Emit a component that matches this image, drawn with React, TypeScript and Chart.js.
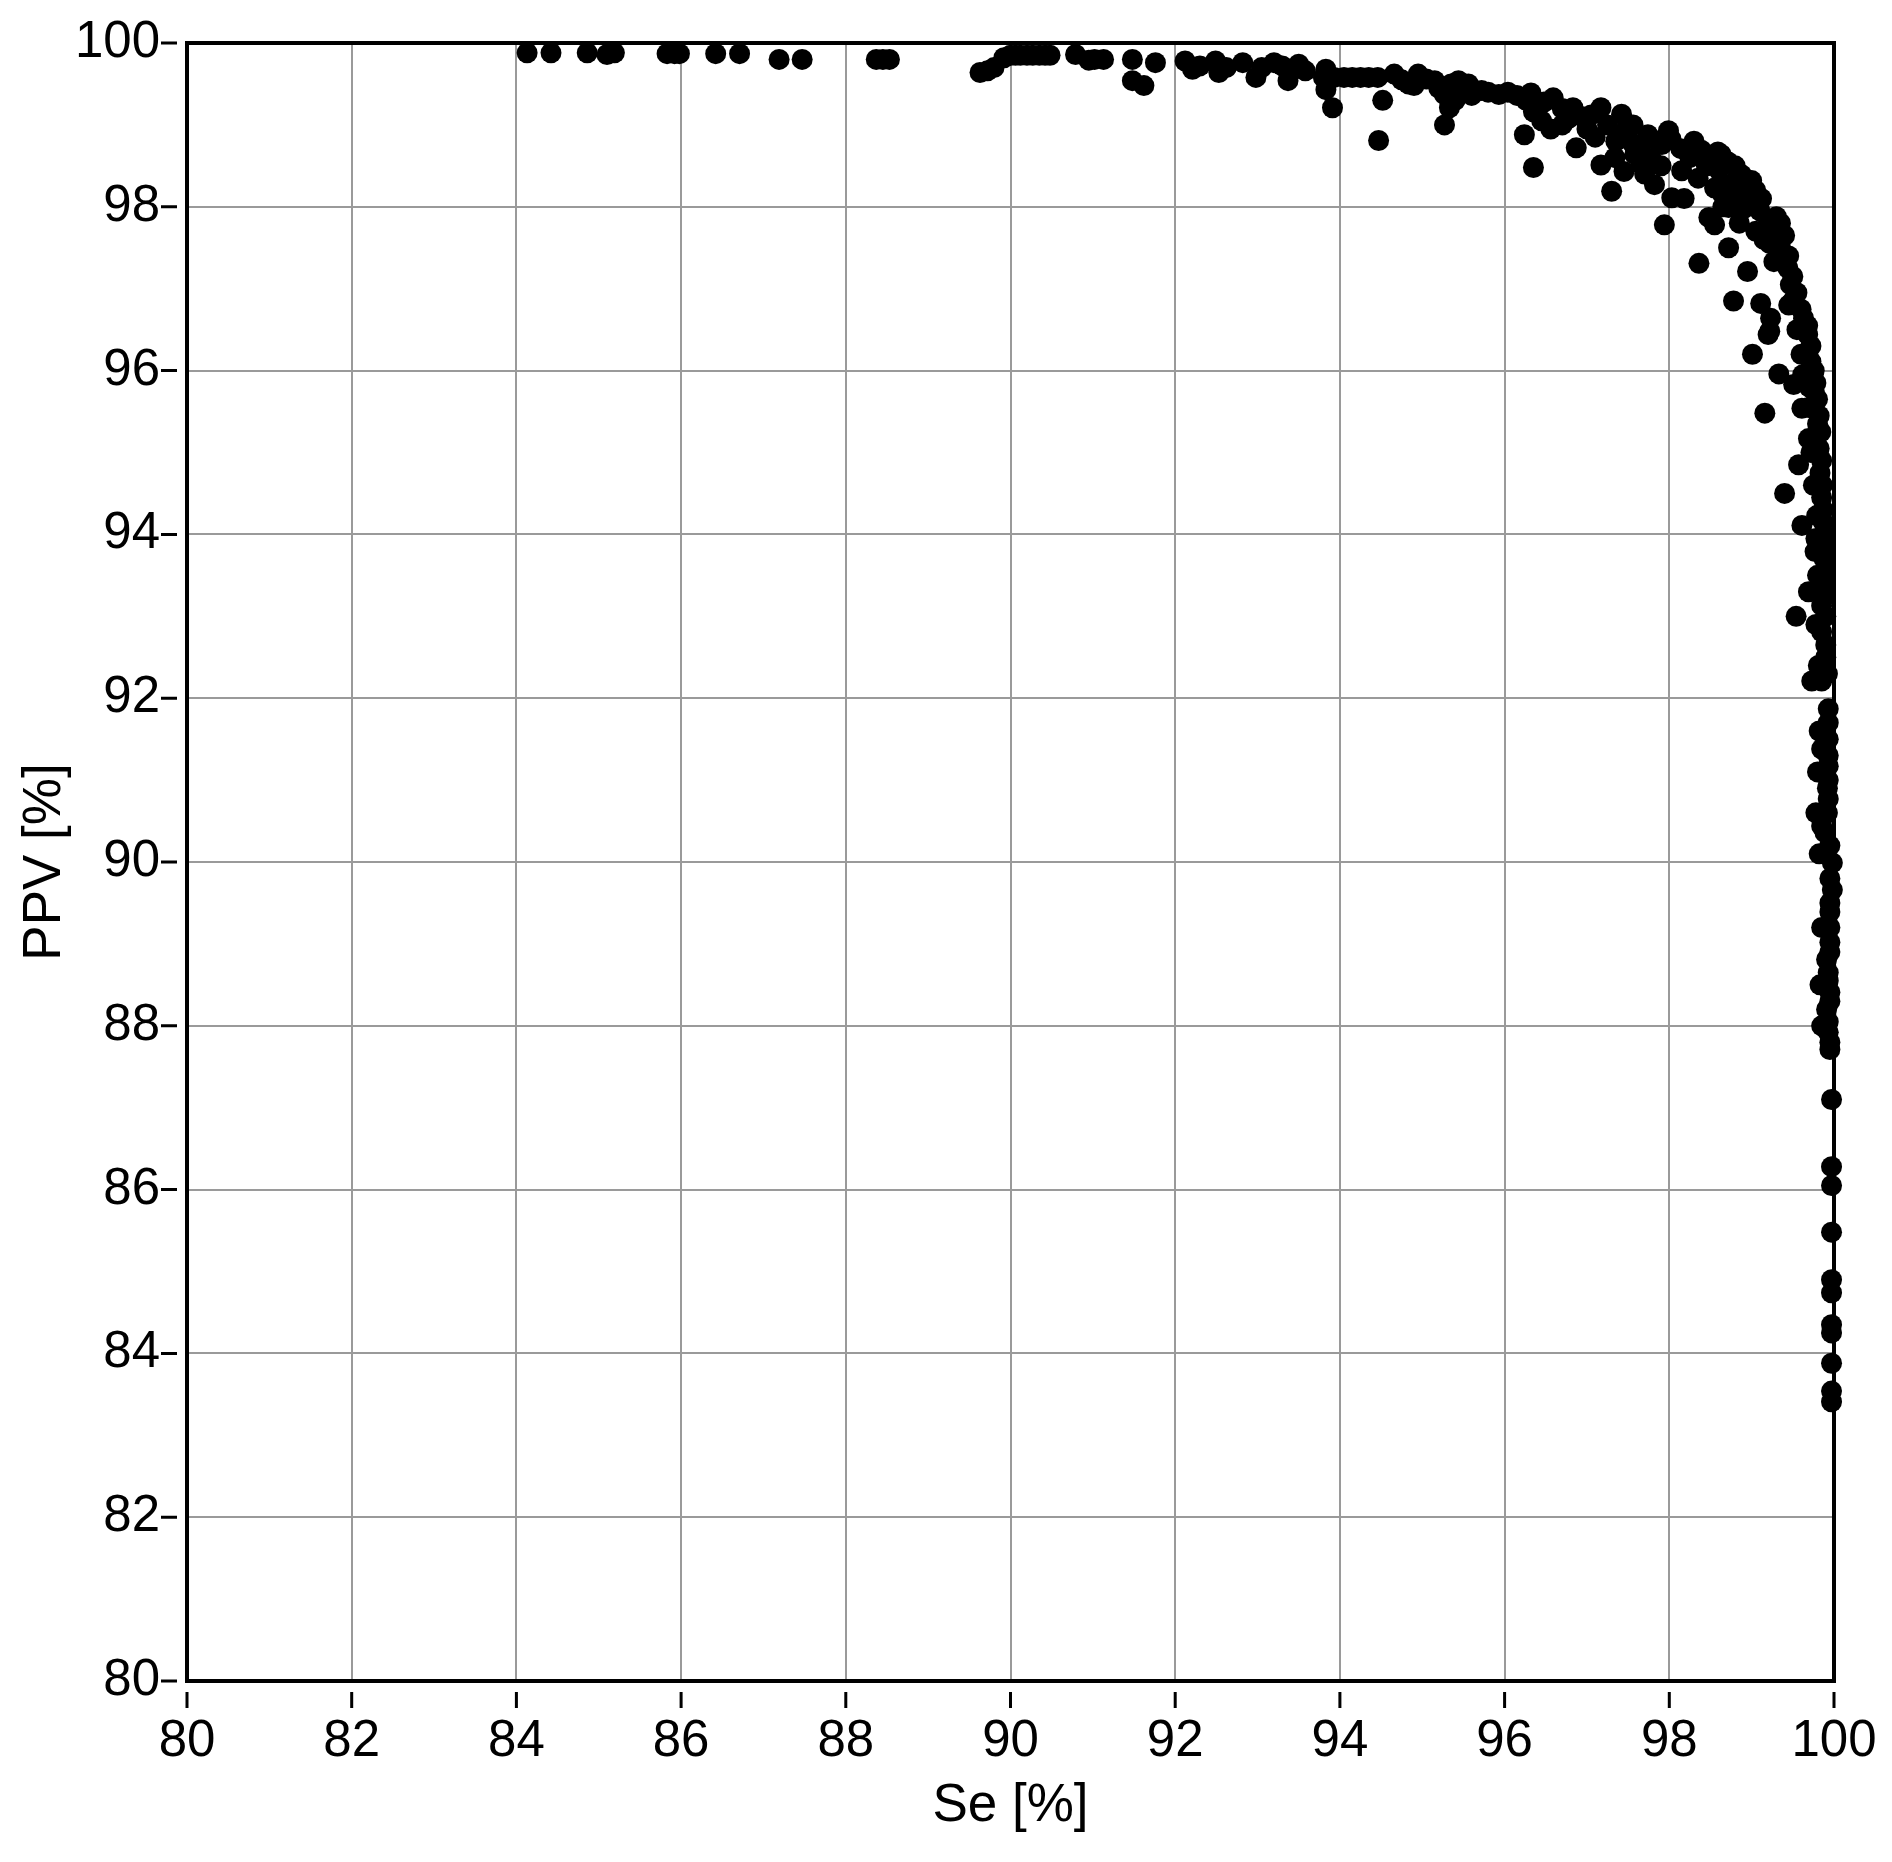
import React, { useEffect, useRef } from "react";
import { Chart, registerables } from "chart.js";

Chart.register(...registerables);

// Tick values for both axes
const axisTicks = [80, 82, 84, 86, 88, 90, 92, 94, 96, 98, 100];
const xTitle = "Se [%]";
const yTitle = "PPV [%]";

// [Se, PPV] pairs
const topRow: [number, number][] = [
  [84.13, 99.88], [84.42, 99.88], [84.86, 99.88], [85.1, 99.86], [85.19, 99.88],
  [85.83, 99.87], [85.92, 99.87], [85.98, 99.87], [86.42, 99.87], [86.71, 99.87],
  [87.19, 99.8], [87.47, 99.8], [88.37, 99.8], [88.45, 99.8], [88.53, 99.8],
];

const plateau: [number, number][] = [
  [89.63, 99.64], [89.72, 99.66], [89.8, 99.7], [89.92, 99.82], [90.0, 99.85],
  [90.06, 99.85], [90.12, 99.85], [90.2, 99.85], [90.27, 99.85], [90.35, 99.85],
  [90.42, 99.85], [90.48, 99.85], [90.79, 99.86], [90.95, 99.79], [91.02, 99.8],
  [91.13, 99.8], [91.48, 99.8], [91.48, 99.54], [91.62, 99.48], [91.76, 99.76],
  [92.12, 99.78], [92.21, 99.68], [92.3, 99.72], [92.49, 99.78], [92.53, 99.64],
  [92.62, 99.7], [92.82, 99.76], [92.98, 99.58], [93.05, 99.7], [93.2, 99.76],
  [93.3, 99.72], [93.37, 99.54], [93.5, 99.74], [93.58, 99.66], [93.8, 99.58],
  [93.83, 99.68], [93.83, 99.43], [93.91, 99.21],
];

const band: [number, number][] = [
  [93.93, 99.58], [94.05, 99.58], [94.15, 99.58], [94.25, 99.58], [94.35, 99.58],
  [94.46, 99.58], [94.52, 99.3], [94.47, 98.81], [94.66, 99.62], [94.75, 99.55],
  [94.83, 99.5], [94.95, 99.62], [95.05, 99.56], [95.15, 99.54], [95.27, 99.37],
  [95.27, 99.0], [95.33, 99.21], [95.35, 99.5], [95.44, 99.54], [95.5, 99.45],
  [95.56, 99.5], [95.63, 99.42], [95.72, 99.42], [95.8, 99.4], [95.93, 99.37],
  [96.04, 99.4], [95.4, 99.3], [95.2, 99.45], [94.9, 99.48], [95.6, 99.36],
];

const knee: [number, number][] = [
  [96.15, 99.36], [96.24, 98.88], [96.26, 99.3], [96.32, 99.39], [96.35, 98.48],
  [96.35, 99.16], [96.48, 99.28], [96.56, 98.95], [96.59, 99.33], [96.7, 99.2],
  [96.83, 99.21], [96.87, 98.72], [96.95, 99.1], [97.05, 99.12], [97.17, 99.21],
  [97.17, 98.51], [97.25, 99.0], [97.3, 98.19], [97.34, 98.6], [97.42, 99.13],
  [97.46, 98.92], [97.45, 98.43], [97.56, 99.0], [97.58, 98.64], [97.66, 98.52],
  [97.74, 98.88], [97.78, 98.59], [97.82, 98.27], [97.86, 98.8], [97.91, 98.76],
  [97.94, 97.78], [97.99, 98.93], [98.03, 98.11], [98.02, 98.83],
  [96.45, 99.05], [96.7, 99.0], [96.78, 99.08], [97.0, 98.95], [97.1, 98.85],
  [97.35, 98.8], [97.55, 98.78], [97.65, 98.7], [97.9, 98.5], [97.7, 98.4],
];

const shoulder: [number, number][] = [
  [98.14, 98.71], [98.15, 98.44], [98.18, 98.1], [98.3, 98.8], [98.36, 97.31],
  [98.39, 98.69], [98.45, 98.5], [98.48, 97.87], [98.5, 98.55], [98.55, 98.23],
  [98.55, 97.78], [98.59, 98.67], [98.63, 98.64], [98.65, 98.15], [98.71, 98.55],
  [98.72, 98.27], [98.72, 97.99], [98.72, 97.5], [98.78, 96.85], [98.8, 98.11],
  [98.83, 98.35], [98.88, 98.39], [98.91, 97.98], [98.95, 97.21], [99.0, 98.32],
  [99.01, 96.2], [99.05, 98.2], [99.1, 97.95], [99.11, 96.82], [99.2, 96.44],
  [99.22, 96.48], [98.95, 98.25], [99.05, 97.7], [99.15, 97.6],
  [98.25, 98.6], [98.35, 98.35], [98.6, 98.45], [98.8, 98.5], [98.9, 98.15],
  [98.65, 98.0], [99.0, 98.05], [99.12, 98.1], [99.2, 97.85], [98.85, 97.8],
];

const vertical: [number, number][] = [
  [99.3, 97.88], [99.35, 97.8], [99.27, 97.7], [99.4, 97.65], [99.22, 97.55],
  [99.35, 97.5], [99.45, 97.4], [99.27, 97.33], [99.44, 97.25], [99.5, 97.15],
  [99.47, 97.05], [99.55, 96.95], [99.5, 96.85], [99.6, 96.75], [99.63, 96.64],
  [99.68, 96.55], [99.23, 96.64], [99.68, 96.44], [99.72, 96.3], [99.6, 96.2],
  [99.72, 96.11], [99.76, 96.0], [99.33, 95.96], [99.78, 95.85], [99.76, 95.75],
  [99.51, 95.83], [99.8, 95.65], [99.69, 95.55], [99.61, 95.54], [99.82, 95.45],
  [99.16, 95.48], [99.8, 95.35], [99.69, 95.17], [99.84, 95.25], [99.82, 95.05],
  [99.57, 94.85], [99.85, 94.9], [99.83, 94.75], [99.86, 94.6], [99.4, 94.5],
  [99.85, 94.45], [99.79, 94.23], [99.61, 94.11], [99.87, 94.3], [99.87, 94.15],
  [99.88, 94.0], [99.77, 93.79], [99.88, 93.85], [99.88, 93.7], [99.89, 93.55],
  [99.69, 93.3], [99.88, 93.4], [99.89, 93.25], [99.85, 93.13], [99.54, 93.0],
  [99.9, 93.0], [99.85, 92.81], [99.9, 92.65], [99.81, 92.4], [99.9, 92.5],
  [99.73, 92.21], [99.85, 92.21], [99.92, 92.3], [99.93, 91.87], [99.93, 91.7],
  [99.85, 91.38], [99.93, 91.5], [99.93, 91.3], [99.93, 91.17], [99.93, 91.0],
  [99.92, 90.9], [99.93, 90.77], [99.85, 90.44], [99.89, 90.36], [99.92, 90.6],
  [99.95, 90.2], [99.98, 89.99], [99.95, 89.8], [99.98, 89.66], [99.95, 89.5],
  [99.95, 89.39], [99.95, 89.2], [99.95, 89.02], [99.91, 88.81], [99.95, 88.9],
  [99.93, 88.65], [99.95, 88.41], [99.93, 88.55], [99.91, 88.2], [99.95, 88.3],
  [99.93, 88.05], [99.93, 87.92], [99.95, 87.8], [99.95, 87.71],
  [99.55, 96.5], [99.45, 96.8], [99.62, 95.95], [99.7, 95.8], [99.72, 95.0],
  [99.75, 94.6], [99.78, 93.95], [99.8, 93.5], [99.78, 92.9], [99.8, 91.1],
  [99.78, 90.6], [99.82, 91.6], [99.82, 90.1], [99.85, 89.2], [99.83, 88.5],
  [99.85, 88.0],
];

const tail: [number, number][] = [
  [99.97, 87.1], [99.97, 86.28], [99.97, 86.05], [99.97, 85.48], [99.97, 84.9],
  [99.97, 84.74], [99.97, 84.35], [99.97, 84.25], [99.97, 83.88], [99.97, 83.54],
  [99.97, 83.41],
];

const allPoints = [...topRow, ...plateau, ...band, ...knee, ...shoulder, ...vertical, ...tail];

const FONT = "'Liberation Sans', Arial, sans-serif";

const frameAndTicks = {
  id: "frameAndTicks",
  beforeDatasetsDraw(chart: any) {
    const { ctx, chartArea, scales } = chart;
    ctx.save();
    ctx.strokeStyle = "#000";
    ctx.lineWidth = 4;
    ctx.strokeRect(chartArea.left, chartArea.top, chartArea.right - chartArea.left, chartArea.bottom - chartArea.top);
    ctx.lineWidth = 3;
    ctx.beginPath();
    for (const v of axisTicks) {
      const x = scales.x.getPixelForValue(v);
      ctx.moveTo(x, chartArea.bottom + 11);
      ctx.lineTo(x, chartArea.bottom + 27);
      const y = scales.y.getPixelForValue(v);
      ctx.moveTo(chartArea.left - 26, y);
      ctx.lineTo(chartArea.left - 10, y);
    }
    ctx.stroke();
    ctx.restore();
  },
};

const zeroPadding = (s: any) => {
  s.paddingTop = 0;
  s.paddingBottom = 0;
  s.paddingLeft = 0;
  s.paddingRight = 0;
};

export default function App() {
  const ref = useRef<HTMLCanvasElement | null>(null);
  useEffect(() => {
    if (!ref.current) return;
    const chart = new Chart(ref.current, {
      type: "scatter",
      data: {
        datasets: [
          {
            data: allPoints.map(([x, y]) => ({ x, y })),
            backgroundColor: "#000",
            borderWidth: 0,
            pointRadius: 10.5,
            pointHoverRadius: 10.5,
            clip: false as any,
          },
        ],
      },
      options: {
        responsive: false,
        animation: false,
        devicePixelRatio: 1,
        layout: { padding: { left: 0, right: 50, top: 35, bottom: 0 } },
        plugins: { legend: { display: false }, tooltip: { enabled: false } },
        scales: {
          x: {
            type: "linear",
            min: 80,
            max: 100,
            afterBuildTicks: (s: any) => {
              s.ticks = axisTicks.map((v) => ({ value: v }));
            },
            afterFit: (s: any) => {
              s.height = 173;
              zeroPadding(s);
            },
            ticks: { color: "#000", font: { family: FONT, size: 51 }, padding: 30, maxRotation: 0 },
            grid: { color: "#9a9a9a", lineWidth: 2, drawTicks: false },
            border: { display: false },
            title: {
              display: true,
              text: xTitle,
              color: "#000",
              font: { family: FONT, size: 53 },
              padding: { top: 0, bottom: 16 },
            },
          },
          y: {
            type: "linear",
            min: 80,
            max: 100,
            afterBuildTicks: (s: any) => {
              s.ticks = axisTicks.map((v) => ({ value: v }));
            },
            afterFit: (s: any) => {
              s.width = 179;
              zeroPadding(s);
            },
            ticks: { color: "#000", font: { family: FONT, size: 51 }, padding: 27 },
            grid: { color: "#9a9a9a", lineWidth: 2, drawTicks: false },
            border: { display: false },
            title: {
              display: true,
              text: yTitle,
              color: "#000",
              font: { family: FONT, size: 53 },
              padding: { top: 6, bottom: 0 },
            },
          },
        },
      },
      plugins: [frameAndTicks],
    });
    return () => chart.destroy();
  }, []);
  return (
    <canvas
      ref={ref}
      width={1876}
      height={1846}
      style={{ display: "block", width: 1876, height: 1846 }}
    />
  );
}
